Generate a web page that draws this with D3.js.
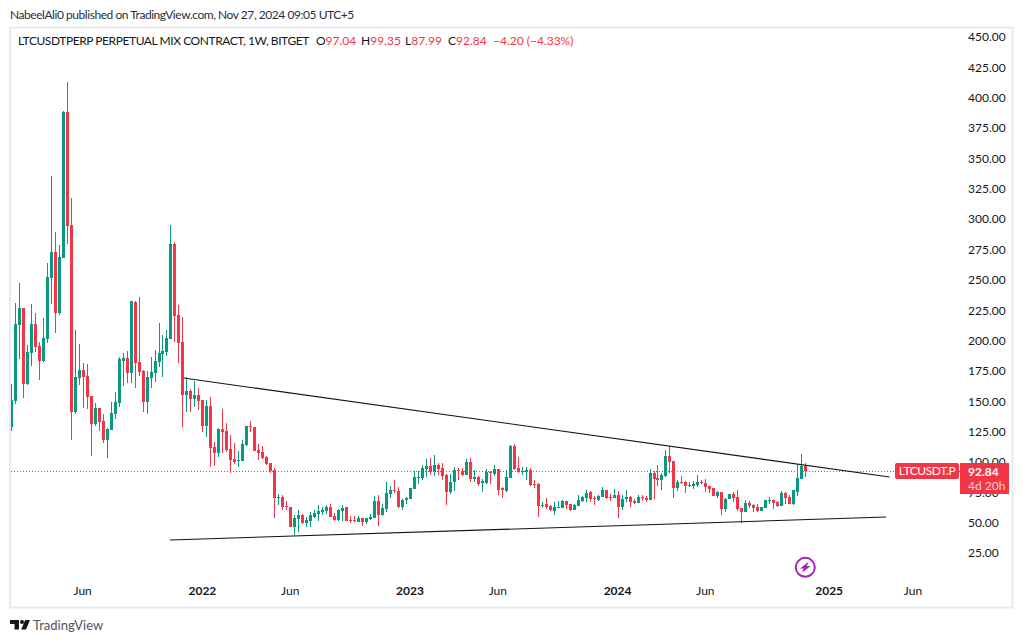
<!DOCTYPE html>
<html>
<head>
<meta charset="utf-8">
<script src="https://cdn.jsdelivr.net/npm/d3@7"></script>
<style>
  html, body { margin: 0; padding: 0; background: #fff; }
  svg { display: block; }
  text { font-family: "Lato", "Open Sans", sans-serif; }
</style>
</head>
<body>
<svg id="chart" width="1023" height="643"></svg>
<script>
// Weekly LTCUSDT perpetual candles, Feb 2021 to Nov 2024
const opens = [
  129.0,150.5,212.8,226.8,164.5,190.0,213.6,195.5,183.1,201.5,
  251.8,272.9,222.7,268.2,388.2,295.1,141.4,169.1,175.7,170.8,
  154.3,131.5,144.4,133.7,118.1,126.6,139.8,148.8,183.1,185.6,
  173.3,231.7,182.3,174.9,149.6,169.1,173.3,182.3,188.9,190.6,
  201.5,279.5,221.0,198.8,155.1,158.4,152.1,155.1,151.0,129.6,
  146.0,112.3,107.3,127.1,125.4,110.6,102.4,101.0,100.7,113.9,
  129.6,128.7,109.8,108.1,104.0,99.1,93.3,70.3,71.1,63.7,
  62.8,46.4,53.0,56.2,49.7,51.3,54.6,57.1,58.7,59.5,
  62.8,55.4,52.1,59.5,62.8,52.1,52.1,50.5,53.8,50.5,
  53.0,53.8,67.8,56.2,61.2,73.6,76.9,76.0,62.6,68.6,
  69.5,77.7,86.8,86.8,94.2,96.6,91.7,97.5,95.0,89.2,
  75.2,83.5,93.3,92.5,89.2,99.9,85.9,87.6,82.6,82.6,
  91.7,90.1,94.2,78.5,76.0,86.8,113.1,95.0,91.7,91.7,
  93.3,81.8,81.8,63.7,65.3,63.7,59.6,62.0,62.0,67.8,
  65.3,60.4,63.7,67.8,70.3,75.2,70.3,68.6,71.1,76.9,
  71.1,70.3,72.8,62.9,69.5,71.1,67.8,66.2,71.1,70.3,
  68.6,90.9,86.8,85.1,88.4,104.9,100.8,78.5,83.5,83.5,
  81.0,80.2,81.0,83.5,82.6,80.2,78.5,71.9,75.2,61.2,
  69.5,73.6,71.1,62.0,58.7,66.2,64.5,62.9,59.6,62.0,
  67.8,68.6,67.0,63.7,74.4,71.1,65.3,75.2,85.9,97.04
];
const highs = [
  164.2,230.9,247.4,226.8,196.1,230.1,222.7,198.8,218.6,263.9,
  335.5,289.4,278.7,389.0,412.9,317.4,208.7,197.1,181.2,180.7,
  154.3,148.5,144.4,139.5,127.9,149.4,157.6,186.4,189.7,191.4,
  232.6,232.6,235.9,175.7,174.9,186.4,192.2,214.4,204.6,208.7,
  295.2,281.2,229.3,219.4,169.9,160.0,166.6,160.9,151.0,151.0,
  153.5,116.4,127.9,143.6,132.0,122.2,115.6,109.0,118.0,129.6,
  133.7,128.7,114.7,113.1,104.9,99.1,95.0,73.5,72.7,67.8,
  62.8,56.2,60.4,57.1,54.6,58.7,60.4,64.5,62.8,64.5,
  65.3,57.9,61.2,64.5,62.8,55.4,55.4,55.4,53.8,53.8,
  57.1,71.9,72.7,65.3,83.5,80.2,85.1,79.3,69.5,71.1,
  78.5,92.5,92.5,97.5,102.4,103.2,105.7,99.1,99.1,90.1,
  90.1,95.8,95.0,95.0,102.4,103.2,93.3,88.4,85.9,94.2,
  92.5,97.5,94.2,79.3,93.3,113.9,114.8,104.1,95.8,95.8,
  95.0,85.1,82.6,67.0,70.3,64.5,67.0,67.8,68.6,67.8,
  65.3,65.3,72.8,71.9,76.9,76.0,71.9,72.8,79.3,76.9,
  73.6,77.7,76.0,72.8,76.9,71.9,69.5,72.8,72.8,71.9,
  94.2,92.5,97.5,90.9,109.8,113.1,100.8,85.1,88.4,84.3,
  83.5,84.3,89.2,85.1,85.9,80.2,78.5,76.0,75.2,70.3,
  73.6,75.2,76.9,62.0,68.6,67.8,65.3,65.3,62.9,68.6,
  71.1,68.6,67.8,76.0,75.2,72.8,76.9,98.3,106.5,99.35
];
const lows = [
  125.8,147.7,184.8,152.9,163.6,179.3,190.6,167.8,182.6,198.3,
  230.1,206.5,221.0,268.0,279.5,118.3,139.8,163.6,144.4,143.9,
  105.2,129.9,125.8,115.9,103.5,126.6,135.6,145.5,162.8,165.3,
  165.3,161.2,171.1,141.4,139.8,161.2,166.1,178.5,170.2,187.3,
  201.5,199.1,181.8,129.0,141.1,141.1,145.2,142.7,124.6,120.5,
  95.8,96.6,104.0,107.3,108.1,90.8,98.3,95.8,100.7,113.1,
  124.6,109.0,101.6,102.4,97.4,90.8,53.8,64.5,60.4,60.4,
  46.4,39.8,42.2,48.8,46.4,46.4,53.8,51.3,56.2,57.1,
  54.6,51.3,51.3,51.3,51.3,49.7,50.5,50.5,47.2,48.8,
  52.1,53.8,47.2,55.4,58.7,70.3,74.4,62.0,60.4,65.3,
  69.5,77.7,81.8,85.1,87.6,89.2,88.4,89.2,85.1,64.5,
  73.6,76.0,85.1,88.4,89.2,83.5,83.5,80.2,75.2,81.8,
  81.8,88.4,72.8,70.3,75.2,86.8,93.3,90.9,89.2,85.1,
  80.2,78.5,54.6,62.0,61.2,59.6,56.3,62.0,62.0,61.2,
  59.6,60.4,63.7,67.0,67.0,67.0,64.5,67.8,71.1,69.5,
  67.8,70.3,53.8,60.4,67.0,62.9,65.3,66.2,67.8,67.0,
  68.6,69.5,80.2,76.9,87.6,90.9,70.3,76.0,81.8,74.4,
  79.3,77.7,79.3,81.8,75.2,74.4,71.9,70.3,56.3,58.7,
  69.5,67.0,59.6,49.7,58.7,62.0,58.7,58.7,59.6,62.0,
  65.3,61.2,62.9,63.7,65.3,65.3,64.5,71.9,85.9,87.99
];
const closes = [
  151.0,213.6,226.8,164.5,190.6,213.6,195.0,183.4,202.1,252.3,
  272.9,222.7,268.8,388.2,294.3,141.4,170.0,175.7,170.0,153.8,
  131.5,144.4,133.2,118.1,127.1,140.3,149.4,184.8,185.6,173.3,
  232.6,181.5,174.1,149.6,170.0,174.1,183.1,189.7,191.4,202.1,
  279.5,220.2,198.3,155.4,158.4,152.1,155.1,150.2,129.6,146.0,
  111.4,107.3,127.1,124.6,109.8,101.6,99.9,101.6,114.7,129.6,
  128.7,109.0,107.3,103.2,98.3,92.5,70.3,71.1,62.8,62.8,
  46.4,53.8,56.2,49.7,52.1,56.2,57.9,59.5,60.4,62.8,
  54.6,52.1,60.4,62.0,51.3,51.3,51.3,53.8,50.5,53.8,
  54.6,67.8,56.2,62.0,74.4,76.9,76.0,62.6,68.6,70.3,
  78.5,87.6,87.6,95.0,96.6,91.7,97.5,94.2,88.4,75.2,
  83.5,93.3,92.5,89.2,99.9,85.9,87.6,81.8,84.3,91.7,
  90.9,94.2,76.9,76.9,87.6,113.1,94.2,91.7,92.5,93.3,
  81.0,81.0,63.7,64.5,62.6,60.1,62.9,62.9,67.8,64.5,
  60.4,64.5,68.6,71.1,74.4,69.5,69.5,71.9,76.9,70.3,
  70.3,72.8,62.9,69.5,71.1,67.0,66.2,71.1,70.3,68.6,
  90.9,85.9,85.1,89.2,104.9,99.9,78.5,83.5,82.6,80.2,
  80.2,81.8,83.5,82.6,79.3,77.7,71.9,75.2,61.2,69.5,
  73.6,70.3,61.2,58.7,66.2,63.7,62.0,59.6,62.9,68.6,
  68.6,66.2,63.7,74.4,70.3,65.3,76.9,86.8,96.6,92.84
];
const firstWeek = "2021-02-01";
const lastWeek = "2024-11-25";
const priceTicks = [25,50,75,100,125,150,175,200,225,250,275,300,325,350,375,400,425,450];
const timeTicks = [
  ["2021-06-07","Jun"],["2022-01-03","2022"],["2022-06-06","Jun"],["2023-01-02","2023"],
  ["2023-06-05","Jun"],["2024-01-01","2024"],["2024-06-03","Jun"],["2025-01-06","2025"],["2025-06-02","Jun"]
];
// Hand-drawn trendlines as [date, price] end points
const upperTrend = [["2021-11-30",169.1],["2025-04-21",87.6]];
const lowerTrend = [["2021-11-06",35.7],["2025-04-15",54.6]];
const lastPrice = 92.84;
const headline = "NabeelAli0 published on TradingView.com, Nov 27, 2024 09:05 UTC+5";
const symbolLine = "LTCUSDTPERP PERPETUAL MIX CONTRACT, 1W, BITGET";
const ohlcLabels = [["O","97.04"],["H","99.35"],["L","87.99"],["C","92.84"]];
const changeLabel = "\u22124.20 (\u22124.33%)";

const UP = "#089981", DOWN = "#F23645", INK = "#131722", FRAME = "#E9EAF0";
const parse = d3.utcParse("%Y-%m-%d");
const svg = d3.select("#chart");

const x = d3.scaleUtc().domain([parse(firstWeek), parse(lastWeek)]).range([11.3, 805.7]);
const y = d3.scaleLinear().domain([25, 450]).range([553, 37]);

const candles = d3.utcMonday.range(parse(firstWeek), d3.utcDay.offset(parse(lastWeek), 1))
  .map((date, i) => ({ date, o: opens[i], h: highs[i], l: lows[i], c: closes[i] }));

svg.append("defs").append("clipPath").attr("id", "pane")
  .append("rect").attr("x", 11).attr("y", 29).attr("width", 1000).attr("height", 577);

// Last price guide
svg.append("line")
  .attr("x1", 11).attr("x2", 960)
  .attr("y1", Math.round(y(lastPrice)) + 0.5).attr("y2", Math.round(y(lastPrice)) + 0.5)
  .attr("stroke", DOWN).attr("stroke-width", 1).attr("stroke-dasharray", "1 2");

// Candles
const pane = svg.append("g").attr("clip-path", "url(#pane)");
const candle = pane.selectAll("g.candle").data(candles).join("g")
  .attr("class", "candle")
  .attr("fill", d => d.c >= d.o ? UP : DOWN)
  .attr("shape-rendering", "crispEdges");
candle.append("rect")
  .attr("x", d => Math.round(x(d.date) - 0.5))
  .attr("width", 1)
  .attr("y", d => y(d.h))
  .attr("height", d => Math.max(1, y(d.l) - y(d.h)));
candle.append("rect")
  .attr("x", d => Math.round(x(d.date) - 0.5) - 1)
  .attr("width", 3)
  .attr("y", d => y(Math.max(d.o, d.c)))
  .attr("height", d => Math.max(1, Math.abs(y(d.o) - y(d.c))));

// Trendlines
const trend = d3.line().x(d => x(parse(d[0]))).y(d => y(d[1]));
[upperTrend, lowerTrend].forEach(points => {
  svg.append("path").attr("d", trend(points))
    .attr("fill", "none").attr("stroke", "#131313").attr("stroke-width", 1.1);
});

// Price scale, labels flush left against the pane edge
const yAxis = svg.append("g").attr("transform", "translate(968,0)")
  .call(d3.axisRight(y).tickValues(priceTicks).tickSize(0).tickPadding(0).tickFormat(d3.format(".2f")));
yAxis.select(".domain").remove();
yAxis.selectAll("text")
  .attr("x", 0).attr("text-anchor", "start")
  .attr("fill", INK).style("font-size", "12px").style("font-family", "Lato, sans-serif");

// Time scale
const xAxis = svg.append("g").attr("transform", "translate(-1,586)")
  .call(d3.axisBottom(x).tickValues(timeTicks.map(d => parse(d[0]))).tickSize(0).tickPadding(0)
    .tickFormat((d, i) => timeTicks[i][1]));
xAxis.select(".domain").remove();
xAxis.selectAll("text")
  .attr("y", 0).attr("dy", "0.71em")
  .attr("fill", INK)
  .style("font-size", "12px").style("font-family", "Lato, sans-serif")
  .style("font-weight", (d, i) => /^\d/.test(timeTicks[i][1]) ? 700 : 400);

// Chart frame
svg.append("rect").attr("x", 10).attr("y", 27.5).attr("width", 1002.5).attr("height", 580)
  .attr("fill", "none").attr("stroke", FRAME).attr("stroke-width", 2);

// Header lines
svg.append("text").attr("x", 10).attr("y", 19).attr("fill", "#2a2e39")
  .style("font-size", "12px").style("letter-spacing", "-0.45px").text(headline);
const legend = svg.append("text").attr("x", 18).attr("y", 45).attr("fill", INK).style("font-size", "12px");
legend.append("tspan").style("letter-spacing", "-0.43px").text(symbolLine);
ohlcLabels.forEach(([key, value], i) => {
  legend.append("tspan").attr("x", [316, 361, 405, 448][i]).text(key);
  legend.append("tspan").attr("fill", DOWN).text(value);
});
legend.append("tspan").attr("x", 493).attr("fill", DOWN).text(changeLabel);

// Last price tags
const tagY = Math.round(y(lastPrice));
svg.append("rect").attr("x", 895).attr("y", tagY - 8).attr("width", 64).attr("height", 16).attr("rx", 2).attr("fill", DOWN);
svg.append("text").attr("x", 927).attr("y", tagY + 4).attr("text-anchor", "middle").attr("fill", "#fff")
  .style("font-size", "12px").style("letter-spacing", "-0.4px").text("LTCUSDT.P");
svg.append("path").attr("d", `M960 ${tagY - 8}h49v31h-49z`).attr("fill", DOWN);
svg.append("text").attr("x", 968).attr("y", tagY + 5).attr("fill", "#fff")
  .style("font-size", "12px").style("font-weight", 700).text(lastPrice.toFixed(2));
svg.append("text").attr("x", 968).attr("y", tagY + 19).attr("fill", "#fff").attr("fill-opacity", 0.75)
  .style("font-size", "12px").text("4d 20h");

// Event marker
const marker = svg.append("g").attr("transform", "translate(805.3,567.3)");
marker.append("circle").attr("r", 9.5).attr("fill", "#fff").attr("stroke", "#9C27B0").attr("stroke-width", 2);
marker.append("path").attr("d", "M3.2-5.5L-5.2 1.2h3.6L-3.2 5.5 5.2-1.2H1.6z").attr("fill", "#9C27B0");

// Brand mark
const brand = svg.append("g").attr("fill", "#131722");
brand.append("path").attr("d", "M10 620h9v9.5h-4.5v-5.5H10z");
brand.append("circle").attr("cx", 22).attr("cy", 622).attr("r", 2);
brand.append("path").attr("d", "M25.2 620H30l-4 9.5h-4.8z");
svg.append("text").attr("x", 33).attr("y", 630).attr("fill", "#50535e")
  .style("font-size", "13px").text("TradingView");
</script>
</body>
</html>
